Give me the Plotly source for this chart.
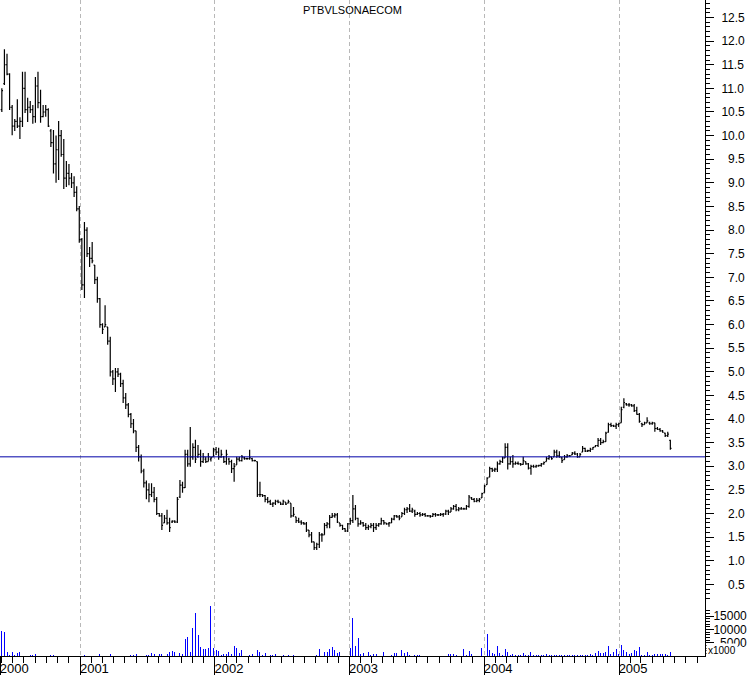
import plotly.graph_objects as go
import pandas as pd

# ---------------- data (weekly) ----------------
high = [11.00,11.83,11.73,11.32,10.65,10.35,10.77,10.39,11.35,11.35,10.80,10.73,10.65,11.24,11.35,10.97,10.65,10.65,10.58,10.14,
        10.12,10.00,10.31,10.12,9.93,9.46,9.40,9.21,9.14,8.93,8.51,7.83,8.17,8.06,7.64,7.75,7.26,7.01,6.56,6.03,
        6.41,5.95,5.74,5.04,5.08,5.08,4.98,4.83,4.55,4.34,4.13,4.00,3.75,3.45,3.25,2.95,2.70,2.64,2.64,2.56,
        2.35,2.01,2.01,1.97,2.08,1.91,1.86,1.86,2.35,2.71,2.67,3.35,3.35,3.83,3.49,3.56,3.45,3.35,3.28,3.20,
        3.28,3.20,3.39,3.41,3.39,3.35,3.22,3.35,3.18,3.14,3.07,3.20,3.20,3.24,3.20,3.18,3.35,3.18,3.14,3.10,
        2.67,2.41,2.39,2.35,2.29,2.24,2.29,2.29,2.24,2.29,2.24,2.29,2.22,2.14,1.93,1.91,1.86,1.82,1.82,1.65,
        1.61,1.40,1.38,1.61,1.59,1.80,1.82,1.97,2.01,2.01,2.01,1.80,1.76,1.69,1.80,1.91,2.39,2.18,1.91,1.86,
        1.82,1.80,1.76,1.80,1.80,1.80,1.80,1.91,1.86,1.80,1.82,1.91,1.97,1.97,1.97,2.03,2.12,2.14,2.20,2.12,
        2.08,2.03,2.03,2.01,2.01,1.97,1.97,2.01,2.01,1.99,2.01,2.01,2.08,2.08,2.14,2.18,2.20,2.14,2.14,2.12,
        2.18,2.39,2.35,2.33,2.33,2.33,2.44,2.61,2.77,2.99,2.97,2.97,3.10,3.14,3.20,3.49,3.49,3.20,3.24,3.10,
        3.10,3.07,3.20,3.10,3.07,3.03,3.03,3.03,3.03,3.07,3.10,3.20,3.24,3.20,3.35,3.35,3.32,3.20,3.24,3.26,
        3.24,3.30,3.32,3.28,3.28,3.43,3.39,3.35,3.39,3.41,3.45,3.60,3.60,3.56,3.73,3.92,3.92,3.88,3.92,3.92,
        4.26,4.44,4.34,4.34,4.32,4.32,4.26,4.13,3.92,3.94,4.04,3.94,3.94,3.92,3.83,3.81,3.77,3.71,3.73,3.56]
low = [10.50,11.07,11.28,10.54,10.01,10.10,10.16,9.93,10.18,10.48,10.29,10.48,10.25,10.27,10.58,10.27,10.39,10.40,10.18,9.76,
       9.20,9.00,9.06,9.55,8.87,8.91,8.95,8.89,8.70,8.40,7.73,6.73,6.56,7.43,7.22,7.30,6.86,6.46,5.93,5.80,
       5.95,5.57,4.90,4.72,4.57,4.89,4.68,4.34,4.21,4.04,3.81,3.70,3.30,3.10,2.85,2.55,2.30,2.24,2.35,2.24,
       1.97,1.93,1.65,1.80,1.76,1.61,1.80,1.80,1.80,2.33,2.44,2.54,2.99,2.99,3.14,3.07,3.18,2.99,3.07,3.07,
       3.10,3.10,3.20,3.24,3.14,3.18,3.07,3.03,3.03,2.86,2.67,3.03,3.10,3.10,3.14,3.14,3.14,3.10,3.10,2.35,
       2.35,2.35,2.24,2.22,2.18,2.14,2.18,2.22,2.18,2.18,2.18,2.22,1.91,1.93,1.80,1.80,1.76,1.76,1.61,1.50,
       1.38,1.23,1.23,1.27,1.40,1.55,1.69,1.69,1.91,1.91,1.80,1.72,1.65,1.61,1.61,1.76,1.80,1.86,1.72,1.76,
       1.72,1.65,1.65,1.69,1.61,1.65,1.72,1.76,1.76,1.76,1.72,1.80,1.86,1.91,1.86,1.93,1.97,2.01,2.03,2.01,
       1.93,1.97,1.93,1.95,1.93,1.93,1.91,1.93,1.93,1.95,1.95,1.93,1.97,1.97,2.03,2.08,2.05,2.05,2.08,2.08,
       2.08,2.12,2.29,2.24,2.24,2.24,2.33,2.44,2.61,2.77,2.88,2.88,2.88,3.03,3.07,3.18,2.93,3.03,2.97,3.03,
       3.03,3.01,3.03,3.03,2.93,2.82,2.97,2.97,2.99,2.99,3.03,3.10,3.14,3.14,3.20,3.18,3.18,3.07,3.14,3.18,
       3.20,3.24,3.24,3.18,3.20,3.30,3.30,3.30,3.30,3.35,3.41,3.41,3.45,3.49,3.52,3.71,3.83,3.83,3.79,3.83,
       3.92,4.23,4.28,4.26,4.26,4.15,4.09,3.92,3.83,3.88,3.92,3.88,3.88,3.73,3.77,3.73,3.71,3.62,3.62,3.35]
open_ = [10.55,11.10,11.50,11.30,10.60,10.20,10.30,10.20,10.30,11.00,10.55,10.60,10.55,10.40,11.05,10.70,10.40,10.50,10.55,10.10,
         9.85,9.40,9.70,10.00,9.60,9.10,9.20,9.10,9.00,8.80,8.45,7.80,6.84,8.00,7.50,7.40,7.26,6.95,6.55,6.00,
         5.95,5.95,5.65,5.00,4.85,5.00,4.95,4.75,4.45,4.30,4.10,3.90,3.75,3.40,3.20,2.90,2.65,2.50,2.40,2.45,
         2.30,2.00,1.95,1.80,1.90,1.80,1.82,1.84,1.82,2.35,2.60,2.55,3.25,3.05,3.20,3.40,3.20,3.25,3.10,3.15,
         3.10,3.15,3.20,3.35,3.30,3.20,3.20,3.10,3.15,3.10,2.95,3.03,3.15,3.12,3.18,3.16,3.16,3.16,3.12,3.10,
         2.40,2.40,2.38,2.30,2.25,2.20,2.22,2.26,2.24,2.20,2.24,2.22,2.22,1.95,1.93,1.85,1.82,1.80,1.78,1.65,
         1.55,1.40,1.28,1.35,1.55,1.55,1.75,1.78,1.92,1.95,1.97,1.80,1.75,1.68,1.63,1.78,1.85,2.10,1.90,1.78,
         1.80,1.75,1.70,1.72,1.75,1.70,1.75,1.78,1.85,1.80,1.78,1.80,1.88,1.95,1.93,1.93,2.00,2.08,2.10,2.05,
         2.05,1.98,2.00,1.97,1.98,1.95,1.95,1.94,1.98,1.97,1.97,1.98,1.99,2.05,2.03,2.10,2.15,2.08,2.10,2.10,
         2.10,2.15,2.33,2.30,2.26,2.28,2.33,2.44,2.61,2.77,2.95,2.92,2.94,3.05,3.10,3.18,3.40,3.05,3.10,3.05,
         3.06,3.05,3.04,3.10,3.05,2.96,3.00,2.99,3.01,3.02,3.05,3.10,3.16,3.20,3.20,3.30,3.22,3.18,3.14,3.20,
         3.22,3.24,3.28,3.26,3.20,3.30,3.38,3.32,3.33,3.36,3.41,3.44,3.55,3.50,3.52,3.72,3.88,3.86,3.85,3.88,
         3.92,4.25,4.32,4.30,4.30,4.28,4.18,4.10,3.90,3.88,3.92,3.92,3.90,3.92,3.80,3.78,3.75,3.70,3.65,3.55]
close = [10.95,11.50,11.30,10.60,10.20,10.30,10.20,10.30,11.00,10.55,10.60,10.55,10.40,11.05,10.70,10.40,10.50,10.55,10.20,9.85,
         9.40,9.70,10.00,9.60,9.10,9.20,9.10,9.00,8.80,8.45,7.80,6.84,8.00,7.50,7.40,7.35,6.95,6.55,6.00,5.90,
         6.00,5.65,5.00,4.85,5.00,4.95,4.75,4.45,4.30,4.10,3.90,3.75,3.40,3.20,2.90,2.65,2.50,2.40,2.45,2.30,
         2.00,1.95,1.75,1.90,1.80,1.70,1.84,1.82,2.30,2.60,2.55,3.25,3.05,3.20,3.40,3.15,3.25,3.10,3.20,3.10,
         3.20,3.18,3.35,3.30,3.20,3.25,3.10,3.25,3.10,2.95,3.00,3.15,3.12,3.20,3.16,3.16,3.18,3.12,3.12,2.40,
         2.40,2.38,2.30,2.25,2.20,2.22,2.26,2.24,2.20,2.26,2.20,2.25,1.95,1.98,1.85,1.82,1.80,1.78,1.65,1.55,
         1.40,1.28,1.35,1.55,1.55,1.75,1.78,1.92,1.95,1.97,1.82,1.75,1.68,1.63,1.78,1.85,2.10,1.90,1.78,1.80,
         1.75,1.70,1.72,1.75,1.70,1.75,1.78,1.85,1.80,1.78,1.80,1.88,1.95,1.93,1.90,2.00,2.08,2.10,2.05,2.08,
         1.98,2.00,1.97,1.98,1.95,1.95,1.94,1.98,1.97,1.97,1.98,1.99,2.05,2.03,2.10,2.15,2.08,2.10,2.10,2.10,
         2.15,2.35,2.30,2.26,2.28,2.30,2.42,2.58,2.75,2.95,2.92,2.94,3.05,3.10,3.18,3.40,3.05,3.10,3.05,3.06,
         3.05,3.04,3.12,3.05,2.96,3.00,2.99,3.01,3.02,3.05,3.08,3.16,3.20,3.16,3.30,3.22,3.20,3.12,3.20,3.22,
         3.22,3.28,3.26,3.20,3.25,3.38,3.32,3.33,3.36,3.40,3.44,3.55,3.50,3.52,3.70,3.88,3.86,3.85,3.88,3.90,
         4.20,4.35,4.30,4.30,4.28,4.18,4.10,3.95,3.88,3.92,3.96,3.90,3.92,3.80,3.78,3.75,3.72,3.65,3.68,3.38]
volume = [9500,9100,1600,400,1600,400,1250,1600,100,0,100,375,375,750,100,0,100,100,0,375,
          375,100,0,0,100,100,0,0,100,100,100,0,375,100,0,0,0,100,750,100,
          100,100,750,100,100,0,100,0,0,0,375,375,750,100,0,100,375,375,1250,750,
          100,750,750,100,750,1630,2000,1630,100,1250,750,6400,7020,1630,10650,16000,7900,3500,2630,2630,
          3130,18800,3130,2260,1880,375,750,750,1630,750,3880,3130,1250,2260,100,100,375,750,100,2260,
          1630,375,1250,0,375,375,750,100,100,375,100,375,0,375,0,0,100,100,0,100,
          0,100,375,2630,100,1630,1630,2630,3500,2260,1250,1630,100,0,100,3130,14400,3760,6900,750,
          1250,100,1630,375,750,750,100,100,1630,0,0,375,1250,1000,100,2260,1250,1630,375,100,
          375,375,375,100,100,100,100,100,100,100,0,100,100,750,750,750,375,100,100,2630,
          375,1880,750,100,100,100,3130,0,8270,2260,1250,750,3760,1250,500,2500,1500,500,800,300,
          300,500,1200,300,500,1500,300,300,200,300,300,600,200,300,200,500,300,200,300,500,
          200,300,200,500,300,200,500,300,800,500,1000,1880,1000,1000,1500,3750,625,1500,2500,625,
          4000,2125,1500,625,1000,2125,1875,3375,250,250,1500,250,250,625,625,625,625,625,250,1500]
first_week = "2000-06-02"
support_level = 3.2
year_ticks = ["2000-05-28 20:00", "2001-01-01", "2002-01-01", "2003-01-01", "2004-01-01", "2005-01-01"]
year_labels = ["2000", "2001", "2002", "2003", "2004", "2005"]
price_ticks = [0.5 * k for k in range(1, 26)]
vol_ticks = [5000, 10000, 15000]
vol_labels = ["5000", "10000", "15000"]
title_text = "PTBVLSONAECOM"

n = len(high)
assert len(low) == n and len(open_) == n and len(close) == n and len(volume) == n
dates = pd.date_range(first_week, periods=n, freq="7D")
month_ticks = pd.date_range("2000-06-01", "2005-08-01", freq="MS")

FIG_W, FIG_H = 751, 675
ML, MR, MT, MB = 0, 46, 0, 19
plot_h = FIG_H - MT - MB  # 656
# pixel calibration of the price scale: 12.5 at y=17.5, 47.24 px per unit
p_top = 12.5 + 17.5 / 47.24
p_bot = 12.5 - (plot_h - 17.5) / 47.24
v_top = plot_h / 13.33 * 5000

price_text = [("\u2007" if t < 10 else "") + f"{t:.1f}" for t in price_ticks]
minor_price = [round(0.1 * k, 1) for k in range(2, 129) if k % 5 != 0]
vol_text = [("\u2007" if v < 10000 else "") + s for v, s in zip(vol_ticks, vol_labels)]

fig = go.Figure()
fig.add_trace(go.Bar(
    x=dates, y=volume, yaxis="y2", xaxis="x",
    marker=dict(color="#0000ff", line=dict(width=0)),
    width=2.7 * 86400000, hoverinfo="skip", showlegend=False))
fig.add_trace(go.Ohlc(
    x=dates, open=open_, high=high, low=low, close=close,
    increasing=dict(line=dict(color="black", width=1.2)),
    decreasing=dict(line=dict(color="black", width=1.2)),
    tickwidth=0.45, hoverinfo="skip", showlegend=False))

xr = ["2000-05-28", "2005-08-22"]
fig.update_layout(
    width=FIG_W, height=FIG_H,
    margin=dict(l=ML, r=MR, t=MT, b=MB, pad=0),
    paper_bgcolor="white", plot_bgcolor="white",
    font=dict(family="Liberation Sans, Arial, sans-serif", size=12, color="black"),
    showlegend=False, bargap=0,
    xaxis=dict(type="date", range=xr, rangeslider=dict(visible=False),
               showline=True, linecolor="black", linewidth=1,
               tickmode="array", tickvals=year_ticks, ticktext=year_labels,
               ticks="outside", ticklen=19, tickcolor="black", tickwidth=1,
               showgrid=True, gridcolor="#b8b8b8", gridwidth=1, griddash="4px,3px",
               minor=dict(tickmode="array", tickvals=list(month_ticks), ticks="outside", ticklen=6,
                          tickcolor="black", tickwidth=1, showgrid=False),
               ticklabelshift=14, ticklabelstandoff=-19, ticklabeloverflow="allow",
               tickfont=dict(size=13), zeroline=False, fixedrange=True),
    yaxis=dict(side="right", range=[p_bot, p_top], showline=True, linecolor="black", linewidth=1,
               tickmode="array", tickvals=price_ticks, ticktext=price_text,
               ticks="outside", ticklen=8, tickcolor="black", tickwidth=1,
               minor=dict(tickmode="array", tickvals=minor_price, ticks="outside", ticklen=4,
                          tickcolor="black", tickwidth=1, showgrid=False),
               showgrid=False, zeroline=False, ticklabelstandoff=5, fixedrange=True),
    yaxis2=dict(side="right", overlaying="y", anchor="x", range=[0, v_top],
                tickmode="array", tickvals=vol_ticks, ticktext=vol_text,
                ticks="outside", ticklen=8, tickcolor="black", tickwidth=1,
                minor=dict(tickmode="array", tickvals=[1000, 2000, 3000, 4000, 6000, 7000, 8000, 9000,
                                                          11000, 12000, 13000, 14000, 16000, 17000],
                           ticks="outside", ticklen=4, tickcolor="black", tickwidth=1, showgrid=False),
                showline=False, showgrid=False, zeroline=False, ticklabelstandoff=-3, fixedrange=True),
)
fig.add_shape(type="line", xref="paper", yref="y", x0=0, x1=1, y0=support_level, y1=support_level,
              line=dict(color="#0000a8", width=1))
fig.add_annotation(text=title_text, xref="paper", yref="paper", x=352 / 705, y=1 - 10 / plot_h,
                   xanchor="center", yanchor="middle", showarrow=False,
                   font=dict(size=11, color="black"))
fig.add_annotation(text="x1000", xref="paper", yref="y2", x=1, y=1900, xshift=1,
                   xanchor="left", yanchor="middle", showarrow=False,
                   font=dict(size=10, color="black"), bgcolor="white")

fig.write_html("out.html", config={"displayModeBar": False, "staticPlot": True},
               post_script="document.body.style.margin='0';document.body.style.padding='0';")
